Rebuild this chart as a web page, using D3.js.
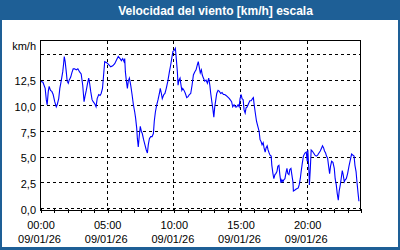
<!DOCTYPE html>
<html>
<head>
<meta charset="utf-8">
<script src="https://cdn.jsdelivr.net/npm/d3@7"></script>
<style>
  html, body { margin: 0; padding: 0; background: #fff; }
  svg { display: block; font-family: "Liberation Sans", Arial, sans-serif; }
</style>
</head>
<body>
<svg id="chart" width="400" height="250"></svg>
<script>
// minutes since 00:00 (09/01/26) and wind speed in km/h
const minutes = [
  0,11,21,26,30,35,39,45,51,57,64,71,75,82,87,93,100,104,107,111,
  116,120,125,129,136,141,147,154,161,168,176,183,190,196,200,206,212,217,221,226,
  232,237,244,250,255,262,268,273,
  279,284,289,298,307,316,325,334,343,350,358,364,370,376,379,382,386,391,395,400,
  406,412,418,424,428,433,436,440,445,449,454,458,464,470,476,481,485,490,496,502,
  508,512,517,523,529,535,539,544,548,555,560,566,
  573,580,586,592,596,602,607,611,616,619,623,628,631,636,640,646,652,658,664,670,
  676,682,688,694,700,706,710,715,719,724,728,733,739,745,751,757,762,766,771,775,
  780,784,789,793,799,805,811,817,823,829,835,841,850,
  860,865,871,877,883,889,894,898,903,907,912,916,921,925,930,936,942,948,954,958,
  961,966,972,978,984,988,993,997,1002,1006,1011,1015,1020,1024,1029,1033,1038,1041,1046,1050,
  1055,1059,1064,1068,1073,1077,1082,1086,1091,1095,1100,1104,1109,1113,1118,1122,1127,1131,1136,1138,
  1145,1151,1160,
  1164,1169,1173,1178,1183,1190,1196,1200,1203,1208,1210,1214,1218,1223,1229,1235,1241,1247,1253,1259,
  1265,1269,1274,1278,1283,1287,1292,1296,1301,1305,1310,1316,1322,1326,1331,1335,1340,1344,1349,1353,
  1358,1362,1367,1371,1376,1382,1388,1394,1400,1406,1411,1415,1420,1424,1429,1433
];
const speed = [
  12.4,12.3,11.7,10.6,10.1,11.4,11.9,11.5,11.4,11.1,10.4,9.9,10.1,10.7,11.7,12.4,13.3,14.1,14.8,14.3,
  13.3,12.4,12.2,12.5,12.8,13.2,13.6,13.6,13.5,13.6,13.3,13.1,12.0,10.4,10.9,11.5,12.2,12.7,12.2,11.4,
  10.6,10.4,10.2,9.9,10.7,11.1,11.0,11.2,
  11.7,13.0,14.3,14.2,14.0,13.8,13.9,14.1,14.5,14.8,14.6,14.4,14.6,14.3,14.6,13.3,12.5,11.7,12.4,12.7,
  12.0,11.1,10.1,9.4,8.8,7.8,6.8,6.0,7.2,8.0,7.5,7.3,6.7,6.2,5.7,5.4,6.2,6.8,7.0,7.0,
  7.3,8.5,9.4,10.1,10.6,11.2,11.7,11.2,10.7,11.1,11.2,11.7,
  12.4,13.3,14.0,14.8,15.3,15.4,15.6,14.6,13.3,12.0,12.5,12.7,12.2,11.5,11.7,11.5,11.2,10.8,10.9,11.1,
  11.2,12.0,13.0,13.3,13.5,14.0,14.3,13.7,13.2,13.5,13.0,12.7,12.4,12.5,12.2,12.7,12.0,11.2,10.4,9.8,
  8.9,9.9,10.6,11.2,11.5,11.4,11.2,11.3,11.1,11.1,11.0,10.9,10.7,
  10.4,9.9,10.1,9.9,9.9,10.1,9.9,10.7,11.1,10.7,10.6,9.6,9.3,9.8,9.9,10.2,10.5,10.5,10.7,10.8,
  10.2,9.4,8.5,8.0,7.5,6.7,6.5,6.2,6.4,5.9,5.5,5.9,6.1,5.7,5.4,5.2,5.1,4.2,3.4,2.9,
  3.3,3.4,3.6,4.1,4.2,3.3,2.5,2.8,2.6,2.8,2.9,3.4,3.9,3.4,3.3,3.8,3.9,3.3,2.6,1.7,
  1.8,1.9,2.0,
  2.3,2.9,3.6,4.4,5.1,5.4,5.5,4.6,5.7,3.6,2.3,3.8,5.7,5.6,5.4,5.2,5.1,5.2,5.4,5.6,
  5.9,6.1,5.9,5.6,5.4,5.1,4.9,4.2,3.4,4.1,4.6,4.5,3.9,2.9,2.3,1.5,0.8,1.7,2.3,2.9,
  3.7,3.3,2.6,2.8,2.9,3.4,4.1,4.7,5.3,5.2,5.1,4.2,3.6,2.6,1.5,0.7
];

const hourTicks = d3.range(0, 1441, 60);
const labelTicks = [0, 300, 600, 900, 1200];
const labelTimes = ["00:00", "05:00", "10:00", "15:00", "20:00"];
const labelDate = "09/01/26";
const yGrid = [0, 2.5, 5, 7.5, 10, 12.5, 15];
const yLabels = [0, 2.5, 5, 7.5, 10, 12.5];
const title = "Velocidad del viento [km/h] escala";
const unit = "km/h";

const W = 400, H = 250;
const plot = { left: 40.5, right: 360.5, top: 40.5, bottom: 210.5 };
const frameColor = "#1e5f96";

const svg = d3.select("#chart");

const x = d3.scaleLinear().domain([0, 1440]).range([plot.left, plot.right]);
const y = d3.scaleLinear().domain([-0.195, 16.36]).range([plot.bottom, plot.top]);
const snap = (v) => Math.floor(v) + 0.5;

const addFrame = () => {
  svg.append("rect").attr("x", 0).attr("y", 0).attr("width", W).attr("height", H)
    .attr("fill", frameColor);
  svg.append("rect").attr("x", 2).attr("y", 20).attr("width", W - 4).attr("height", H - 23)
    .attr("fill", "#ffffff");
  svg.append("text")
    .text(title)
    .attr("x", 215.5).attr("y", 14.5)
    .attr("text-anchor", "middle")
    .attr("fill", "#ffffff")
    .attr("font-weight", "bold")
    .attr("font-size", 12);
};

const addGrid = () => {
  const g = svg.append("g")
    .attr("stroke", "#000").attr("stroke-width", 1).attr("stroke-dasharray", "3,3")
    .attr("shape-rendering", "crispEdges");
  g.selectAll(".hg").data(yGrid).enter().append("line")
    .attr("x1", plot.left).attr("x2", plot.right)
    .attr("y1", (d) => snap(y(d))).attr("y2", (d) => snap(y(d)));
  g.selectAll(".vg").data(labelTicks.slice(1)).enter().append("line")
    .attr("y1", plot.top).attr("y2", plot.bottom)
    .attr("x1", (d) => snap(x(d))).attr("x2", (d) => snap(x(d)));
};

const addAxes = () => {
  // hourly ticks crossing the bottom axis
  const xAxis = d3.axisBottom(x).tickValues(hourTicks).tickSize(2).tickFormat("");
  const gx = svg.append("g")
    .attr("transform", `translate(0, ${plot.bottom})`)
    .attr("shape-rendering", "crispEdges")
    .call(xAxis);
  gx.select(".domain").remove();
  gx.selectAll(".tick line").attr("y1", -2).attr("stroke", "#000")
    .attr("transform", (d) => `translate(${snap(x(d)) - x(d)},0)`);

  const xLab = d3.axisBottom(x).tickValues(labelTicks).tickSize(0).tickFormat("");
  const gl = svg.append("g")
    .attr("transform", `translate(0, ${plot.bottom})`)
    .call(xLab);
  gl.select(".domain").remove();
  gl.selectAll(".tick text").remove();
  gl.selectAll(".tick").each(function (d, i) {
    const t = d3.select(this);
    t.append("text").text(labelTimes[i])
      .attr("y", 18).attr("text-anchor", "middle")
      .attr("fill", "#000").attr("font-size", 11);
    t.append("text").text(labelDate)
      .attr("x", -1.5).attr("y", 32).attr("text-anchor", "middle")
      .attr("fill", "#000").attr("font-size", 11);
  });

  const yAxis = d3.axisLeft(y).tickValues(yLabels).tickSize(0).tickPadding(4.5)
    .tickFormat((d) => d3.format(".1f")(d).replace(".", ","));
  const gy = svg.append("g")
    .attr("transform", `translate(${plot.left}, 0)`)
    .call(yAxis);
  gy.select(".domain").remove();
  gy.selectAll(".tick text")
    .attr("font-size", 11).attr("font-family", null)
    .attr("fill", "#000").attr("dy", "0.42em");

  svg.append("text").text(unit)
    .attr("x", 36).attr("y", 49.5)
    .attr("text-anchor", "end")
    .attr("font-size", 11).attr("fill", "#000");

  svg.append("rect")
    .attr("x", plot.left).attr("y", plot.top)
    .attr("width", plot.right - plot.left).attr("height", plot.bottom - plot.top)
    .attr("fill", "none").attr("stroke", "#000").attr("stroke-width", 1)
    .attr("shape-rendering", "crispEdges");
};

const addLine = () => {
  const data = d3.zip(minutes, speed);
  const line = d3.line().x((d) => x(d[0])).y((d) => y(d[1]));
  svg.append("path")
    .datum(data)
    .attr("d", line)
    .attr("fill", "none")
    .attr("stroke", "#0000ff")
    .attr("stroke-width", 1.1);
};

addFrame();
addGrid();
addLine();
addAxes();
</script>
</body>
</html>
